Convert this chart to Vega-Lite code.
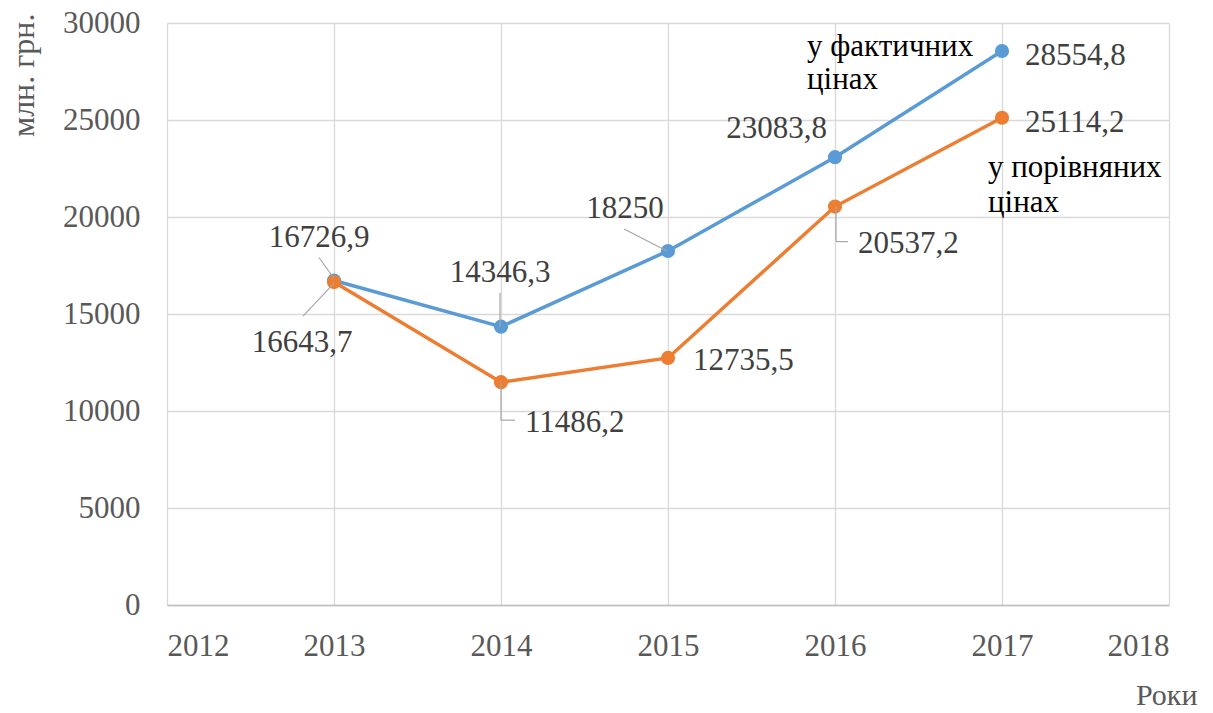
{
  "$schema": "https://vega.github.io/schema/vega-lite/v6.json",
  "width": 1002,
  "height": 582,
  "autosize": {"type": "none"},
  "padding": {"left": 167, "top": 23, "right": 44, "bottom": 108},
  "background": "#ffffff",
  "config": {
    "view": {"stroke": null},
    "font": "'Liberation Serif', 'Times New Roman', Times, serif",
    "text": {"font": "'Liberation Serif', 'Times New Roman', Times, serif"}
  },
  "data": {
    "values": [
      {"year": 2013, "value": 16726.9, "label": "16726,9", "series": "у фактичних цінах", "name": "у фактичних\nцінах"},
      {"year": 2014, "value": 14346.3, "label": "14346,3", "series": "у фактичних цінах", "name": "у фактичних\nцінах"},
      {"year": 2015, "value": 18250, "label": "18250", "series": "у фактичних цінах", "name": "у фактичних\nцінах"},
      {"year": 2016, "value": 23083.8, "label": "23083,8", "series": "у фактичних цінах", "name": "у фактичних\nцінах"},
      {"year": 2017, "value": 28554.8, "label": "28554,8", "series": "у фактичних цінах", "name": "у фактичних\nцінах"},
      {"year": 2013, "value": 16643.7, "label": "16643,7", "series": "у порівняних цінах", "name": "у порівняних\nцінах"},
      {"year": 2014, "value": 11486.2, "label": "11486,2", "series": "у порівняних цінах", "name": "у порівняних\nцінах"},
      {"year": 2015, "value": 12735.5, "label": "12735,5", "series": "у порівняних цінах", "name": "у порівняних\nцінах"},
      {"year": 2016, "value": 20537.2, "label": "20537,2", "series": "у порівняних цінах", "name": "у порівняних\nцінах"},
      {"year": 2017, "value": 25114.2, "label": "25114,2", "series": "у порівняних цінах", "name": "у порівняних\nцінах"}
    ]
  },
  "encoding": {
    "x": {
      "field": "year", "type": "quantitative",
      "scale": {"domain": [2012, 2018], "nice": false, "zero": false},
      "axis": {
        "values": [2012, 2013, 2014, 2015, 2016, 2017, 2018],
        "format": "d",
        "title": "Роки",
        "grid": true, "gridColor": "#d9d9d9", "gridWidth": 1.3,
        "domainColor": "#bfbfbf", "domainWidth": 1.5,
        "ticks": false, "tickSize": 0,
        "labelPadding": 50, "labelBaseline": "alphabetic",
        "labelFont": "'Liberation Serif', 'Times New Roman', Times, serif", "labelFontSize": 31, "labelColor": "#595959",
        "titleFont": "'Liberation Serif', 'Times New Roman', Times, serif", "titleFontSize": 30, "titleColor": "#595959", "titleFontWeight": "normal",
        "titleX": 1030, "titleY": 99, "titleAlign": "right", "titleBaseline": "alphabetic", "titleAnchor": null
      }
    },
    "y": {
      "field": "value", "type": "quantitative",
      "scale": {"domain": [0, 30000], "nice": false},
      "axis": {
        "values": [0, 5000, 10000, 15000, 20000, 25000, 30000],
        "format": "d",
        "title": "млн. грн.",
        "grid": true, "gridColor": "#d9d9d9", "gridWidth": 1.3,
        "domain": false, "ticks": false, "tickSize": 0,
        "labelPadding": 27,
        "labelFont": "'Liberation Serif', 'Times New Roman', Times, serif", "labelFontSize": 31, "labelColor": "#595959",
        "titleFont": "'Liberation Serif', 'Times New Roman', Times, serif", "titleFontSize": 32, "titleColor": "#595959", "titleFontWeight": "normal",
        "titleAngle": -90, "titleX": -134, "titleY": -10, "titleAlign": "right", "titleBaseline": "alphabetic"
      }
    }
  },
  "layer": [
    {
      "mark": {"type": "line", "strokeWidth": 3.5},
      "encoding": {
        "color": {"field": "series", "type": "nominal", "scale": {"domain": ["у фактичних цінах", "у порівняних цінах"], "range": ["#5B9BD5", "#ED7D31"]}, "legend": null}
      }
    },
    {
      "mark": {"type": "point", "filled": true, "size": 200, "opacity": 1},
      "encoding": {
        "color": {"field": "series", "type": "nominal", "legend": null}
      }
    },
    {
      "transform": [{"filter": "datum.year == 2013 && datum.value > 16700"}],
      "mark": {"type": "rule", "color": "#a6a6a6", "strokeWidth": 1.2, "xOffset": -15, "yOffset": -23, "x2Offset": 0, "y2Offset": -2},
      "encoding": {"x2": {"field": "year"}, "y2": {"field": "value"}}
    },
    {
      "transform": [{"filter": "datum.year == 2013 && datum.value < 16700"}],
      "mark": {"type": "rule", "color": "#a6a6a6", "strokeWidth": 1.2, "xOffset": -31, "yOffset": 34, "x2Offset": 0, "y2Offset": 1},
      "encoding": {"x2": {"field": "year"}, "y2": {"field": "value"}}
    },
    {
      "transform": [{"filter": "datum.year == 2014 && datum.value > 13000"}],
      "mark": {"type": "rule", "color": "#a6a6a6", "strokeWidth": 1.2, "xOffset": -1, "yOffset": -34, "x2Offset": -1, "y2Offset": 0},
      "encoding": {"x2": {"field": "year"}, "y2": {"field": "value"}}
    },
    {
      "transform": [{"filter": "datum.year == 2014 && datum.value < 13000"}],
      "mark": {"type": "rule", "color": "#a6a6a6", "strokeWidth": 1.2, "xOffset": 0, "yOffset": 0, "x2Offset": 0, "y2Offset": 38},
      "encoding": {"x2": {"field": "year"}, "y2": {"field": "value"}}
    },
    {
      "transform": [{"filter": "datum.year == 2014 && datum.value < 13000"}],
      "mark": {"type": "rule", "color": "#a6a6a6", "strokeWidth": 1.2, "xOffset": 0, "yOffset": 38, "x2Offset": 14, "y2Offset": 38},
      "encoding": {"x2": {"field": "year"}, "y2": {"field": "value"}}
    },
    {
      "transform": [{"filter": "datum.year == 2015 && datum.value > 15000"}],
      "mark": {"type": "rule", "color": "#a6a6a6", "strokeWidth": 1.2, "xOffset": -44, "yOffset": -22, "x2Offset": -1, "y2Offset": 0},
      "encoding": {"x2": {"field": "year"}, "y2": {"field": "value"}}
    },
    {
      "transform": [{"filter": "datum.year == 2016 && datum.value < 22000"}],
      "mark": {"type": "rule", "color": "#a6a6a6", "strokeWidth": 1.2, "xOffset": 1, "yOffset": 0, "x2Offset": 1, "y2Offset": 35},
      "encoding": {"x2": {"field": "year"}, "y2": {"field": "value"}}
    },
    {
      "transform": [{"filter": "datum.year == 2016 && datum.value < 22000"}],
      "mark": {"type": "rule", "color": "#a6a6a6", "strokeWidth": 1.2, "xOffset": 1, "yOffset": 35, "x2Offset": 13, "y2Offset": 35},
      "encoding": {"x2": {"field": "year"}, "y2": {"field": "value"}}
    },
    {
      "transform": [{"filter": "datum.year == 2013 && datum.value > 16700"}],
      "mark": {"type": "text", "fontSize": 31, "color": "#404040", "align": "center", "baseline": "alphabetic", "dx": -15, "dy": -33},
      "encoding": {"text": {"field": "label"}}
    },
    {
      "transform": [{"filter": "datum.year == 2013 && datum.value < 16700"}],
      "mark": {"type": "text", "fontSize": 31, "color": "#404040", "align": "center", "baseline": "alphabetic", "dx": -32, "dy": 70},
      "encoding": {"text": {"field": "label"}}
    },
    {
      "transform": [{"filter": "datum.year == 2014 && datum.value > 13000"}],
      "mark": {"type": "text", "fontSize": 31, "color": "#404040", "align": "center", "baseline": "alphabetic", "dx": -1, "dy": -45},
      "encoding": {"text": {"field": "label"}}
    },
    {
      "transform": [{"filter": "datum.year == 2014 && datum.value < 13000"}],
      "mark": {"type": "text", "fontSize": 31, "color": "#404040", "align": "left", "baseline": "alphabetic", "dx": 24, "dy": 50},
      "encoding": {"text": {"field": "label"}}
    },
    {
      "transform": [{"filter": "datum.year == 2015 && datum.value > 15000"}],
      "mark": {"type": "text", "fontSize": 31, "color": "#404040", "align": "center", "baseline": "alphabetic", "dx": -43, "dy": -33},
      "encoding": {"text": {"field": "label"}}
    },
    {
      "transform": [{"filter": "datum.year == 2015 && datum.value < 15000"}],
      "mark": {"type": "text", "fontSize": 31, "color": "#404040", "align": "left", "baseline": "alphabetic", "dx": 25, "dy": 12},
      "encoding": {"text": {"field": "label"}}
    },
    {
      "transform": [{"filter": "datum.year == 2016 && datum.value > 22000"}],
      "mark": {"type": "text", "fontSize": 31, "color": "#404040", "align": "right", "baseline": "alphabetic", "dx": -8, "dy": -19},
      "encoding": {"text": {"field": "label"}}
    },
    {
      "transform": [{"filter": "datum.year == 2016 && datum.value < 22000"}],
      "mark": {"type": "text", "fontSize": 31, "color": "#404040", "align": "left", "baseline": "alphabetic", "dx": 23, "dy": 46},
      "encoding": {"text": {"field": "label"}}
    },
    {
      "transform": [{"filter": "datum.year == 2017"}],
      "mark": {"type": "text", "fontSize": 31, "color": "#404040", "align": "left", "baseline": "alphabetic", "dx": 23, "dy": 14},
      "encoding": {"text": {"field": "label"}}
    },
    {
      "transform": [{"filter": "datum.year == 2017 && datum.value > 27000"}],
      "mark": {"type": "text", "fontSize": 31, "color": "#000000", "align": "left", "baseline": "alphabetic", "dx": -195, "dy": 5, "lineBreak": "\n", "lineHeight": 33},
      "encoding": {"text": {"field": "name"}}
    },
    {
      "transform": [{"filter": "datum.year == 2017 && datum.value < 27000"}],
      "mark": {"type": "text", "fontSize": 31, "color": "#000000", "align": "left", "baseline": "alphabetic", "dx": -14, "dy": 59, "lineBreak": "\n", "lineHeight": 35},
      "encoding": {"text": {"field": "name"}}
    }
  ]
}
